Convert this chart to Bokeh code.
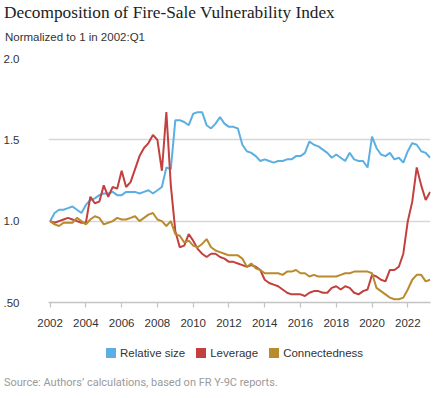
from bokeh.plotting import figure
from bokeh.layouts import column
from bokeh.models import Range1d, FixedTicker, Div
from bokeh.embed import file_html
from bokeh.resources import INLINE

start_year = 2002
year_ticks = [2002, 2004, 2006, 2008, 2010, 2012, 2014, 2016, 2018, 2020, 2022]
y_ticks = [0.5, 1.0, 1.5, 2.0]
y_labels = {0.5: ".50", 1.0: "1.0", 1.5: "1.5", 2.0: "2.0"}

title_text = "Decomposition of Fire-Sale Vulnerability Index"
subtitle_text = "Normalized to 1 in 2002:Q1"
source_text = "Source: Authors\u2019 calculations, based on FR Y-9C reports."

relative_size = [
    1.00, 1.05, 1.07, 1.07,
    1.08, 1.09, 1.07, 1.05,
    1.10, 1.13, 1.14, 1.16,
    1.17, 1.17, 1.18, 1.16,
    1.16, 1.18, 1.18, 1.18,
    1.17, 1.18, 1.19, 1.17,
    1.19, 1.21, 1.33, 1.32,
    1.62, 1.62, 1.61, 1.59,
    1.66, 1.67, 1.67, 1.59,
    1.57, 1.60, 1.64, 1.60,
    1.58, 1.58, 1.57, 1.47,
    1.43, 1.42, 1.40, 1.37,
    1.38, 1.37, 1.36, 1.37,
    1.37, 1.38, 1.38, 1.40,
    1.40, 1.42, 1.49, 1.47,
    1.46, 1.44, 1.42, 1.39,
    1.41, 1.39, 1.37, 1.42,
    1.38, 1.37, 1.37, 1.33,
    1.52, 1.45, 1.41, 1.40,
    1.42, 1.38, 1.39, 1.36,
    1.43, 1.48, 1.47, 1.43,
    1.42, 1.39,
]

leverage = [
    1.00, 0.99, 1.00, 1.01,
    1.02, 1.01, 1.00, 0.99,
    0.99, 1.15, 1.11, 1.12,
    1.22, 1.15, 1.21, 1.20,
    1.31, 1.21, 1.24, 1.32,
    1.40, 1.45, 1.48, 1.53,
    1.50, 1.31, 1.67, 1.22,
    0.94, 0.84, 0.85, 0.92,
    0.88, 0.83, 0.80, 0.78,
    0.80, 0.80, 0.78, 0.77,
    0.75, 0.75, 0.74, 0.73,
    0.72, 0.73, 0.72, 0.70,
    0.64, 0.62, 0.61, 0.60,
    0.58, 0.56, 0.55, 0.55,
    0.55, 0.54, 0.56, 0.57,
    0.57, 0.56, 0.56, 0.59,
    0.60, 0.58, 0.60, 0.59,
    0.56, 0.55, 0.57, 0.58,
    0.67, 0.66, 0.64, 0.63,
    0.70, 0.70, 0.72, 0.80,
    1.00, 1.12, 1.33, 1.22,
    1.13, 1.18,
]

connectedness = [
    1.00, 0.98, 0.97, 0.99,
    0.99, 0.99, 1.02, 1.00,
    0.98, 1.01, 1.03, 1.02,
    0.98, 0.99, 1.00, 1.02,
    1.01, 1.01, 1.02, 1.03,
    1.00, 1.02, 1.04, 1.05,
    1.01, 1.00, 0.97, 1.00,
    0.92, 0.91, 0.87, 0.88,
    0.85, 0.84, 0.86, 0.89,
    0.84, 0.82, 0.81, 0.80,
    0.79, 0.79, 0.79, 0.77,
    0.72, 0.74, 0.71, 0.70,
    0.68, 0.68, 0.68, 0.68,
    0.67, 0.69, 0.69, 0.70,
    0.68, 0.68, 0.66, 0.67,
    0.66, 0.66, 0.66, 0.66,
    0.66, 0.67, 0.68, 0.68,
    0.69, 0.69, 0.69, 0.69,
    0.68, 0.59, 0.57, 0.55,
    0.53, 0.52, 0.52, 0.53,
    0.58, 0.64, 0.67, 0.67,
    0.63, 0.64,
]

series_names = ["Relative size", "Leverage", "Connectedness"]
colors = ["#5cafe2", "#c2403e", "#b98a2e"]

quarters = [start_year + i / 4 for i in range(len(relative_size))]

SANS = "Liberation Sans"

# ---------------- title block ----------------
top = Div(width=428, height=50, margin=0, text=(
    '<div style="position:relative;width:428px;height:50px;">'
    '<div style="position:absolute;left:4px;top:3px;white-space:nowrap;'
    "font-family:'Liberation Serif',serif;font-size:17.3px;line-height:20px;color:#222222;\">"
    + title_text + '</div>'
    '<div style="position:absolute;left:5px;top:31px;white-space:nowrap;'
    "font-family:'Liberation Sans',sans-serif;font-size:11.5px;line-height:13px;color:#333333;\">"
    + subtitle_text + '</div>'
    '</div>'))

# ---------------- main chart ----------------
p = figure(output_backend="svg", toolbar_location=None, title=None,
           frame_width=382, frame_height=244,
           x_range=Range1d(2001.91, 2023.27), y_range=Range1d(0.5, 2.0),
           min_border_left=39, min_border_right=7, min_border_top=8, min_border_bottom=30)
p.outline_line_color = None
p.background_fill_color = "white"
p.border_fill_color = "white"

p.xgrid.visible = False
p.ygrid.ticker = FixedTicker(ticks=y_ticks)
p.ygrid.grid_line_color = "#d7d7d7"
p.ygrid.grid_line_width = 1.5

p.yaxis.ticker = FixedTicker(ticks=y_ticks)
p.yaxis.major_label_overrides = y_labels
p.yaxis.axis_line_color = None
p.yaxis.major_tick_line_color = None
p.yaxis.minor_tick_line_color = None
p.yaxis.major_label_standoff = 23
p.yaxis.major_label_text_font = SANS
p.yaxis.major_label_text_font_size = "11.5px"
p.yaxis.major_label_text_color = "#333333"

p.xaxis.ticker = FixedTicker(ticks=year_ticks)
p.xaxis.axis_line_color = "#c4c4c4"
p.xaxis.axis_line_width = 1.5
p.xaxis.major_tick_line_color = "#c4c4c4"
p.xaxis.major_tick_line_width = 1.2
p.xaxis.major_tick_out = 5
p.xaxis.major_tick_in = 0
p.xaxis.minor_tick_line_color = None
p.xaxis.major_label_standoff = 11
p.xaxis.major_label_text_font = SANS
p.xaxis.major_label_text_font_size = "11.5px"
p.xaxis.major_label_text_color = "#333333"

for vals, c in zip([relative_size, leverage, connectedness], colors):
    p.line(quarters, vals, line_color=c, line_width=2)

# ---------------- legend + source block ----------------
legend_parts = []
for i, (name, c) in enumerate(zip(series_names, colors)):
    gap = "0" if i == 0 else "11px"
    legend_parts.append(
        f'<span style="display:inline-block;width:10px;height:10px;background:{c};'
        f'vertical-align:middle;margin-left:{gap};margin-right:4px;"></span>'
        f'<span style="vertical-align:middle;">{name}</span>')

bottom = Div(width=428, height=57, margin=0, text=(
    '<div style="position:relative;width:428px;height:57px;">'
    '<div style="position:absolute;left:106px;top:13px;white-space:nowrap;'
    "font-family:'Liberation Sans',sans-serif;font-size:11.5px;line-height:14px;color:#333333;\">"
    + "".join(legend_parts) + '</div>'
    '<div style="position:absolute;left:4px;top:44px;white-space:nowrap;'
    "font-family:'Roboto',sans-serif;font-size:11px;line-height:13px;color:#9a9a9a;\">"
    + source_text + '</div>'
    '</div>'))

page = column(top, p, bottom, spacing=0)
open("out.html", "w").write(file_html(page, INLINE))
